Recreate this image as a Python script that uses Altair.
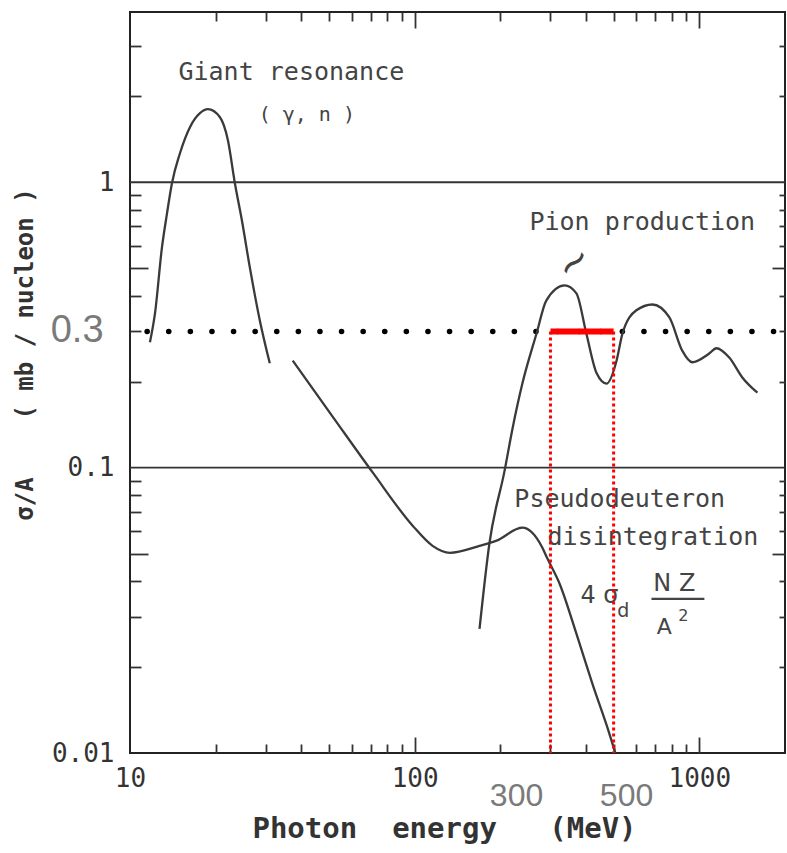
import altair as alt
import pandas as pd

# ---------------- data ----------------
# Giant resonance (gamma, n)
gr_E = [11.75, 12.24, 12.95, 13.49, 14.04, 14.98, 16.24, 17.61, 18.78, 20.70, 22.08, 23.36,
        24.72, 26.36, 28.58, 30.98]
gr_s = [0.275, 0.347, 0.591, 0.778, 0.992, 1.264, 1.56, 1.746, 1.803, 1.69, 1.404, 0.992,
        0.736, 0.503, 0.328, 0.232]
# quasi-deuteron / pseudodeuteron branch
qd_E = [37.3, 51.5, 71.3, 98.4, 115.6, 133, 169, 194, 239, 259, 281, 293, 323, 370, 421, 483, 507]
qd_s = [0.237, 0.151, 0.096, 0.0626, 0.0532, 0.0503, 0.0532, 0.0555, 0.0616, 0.0591, 0.0524,
        0.0479, 0.0392, 0.0262, 0.0175, 0.0117, 0.01]
# pion production
pi_E = [169, 183, 207, 221, 239, 268, 290, 336, 370, 401, 436, 472, 512, 537, 601, 684,
        785, 871, 944, 1083, 1148, 1274, 1416, 1600]
pi_s = [0.0272, 0.0541, 0.0976, 0.138, 0.197, 0.295, 0.385, 0.435, 0.408, 0.295, 0.214, 0.197,
        0.237, 0.295, 0.356, 0.373, 0.336, 0.257, 0.234, 0.251, 0.262, 0.243, 0.207, 0.183]

grid_s = [1, 0.1]
level_s = 0.3
band_E = [300, 500]

x_label_vals = [10, 100, 1000]
y_label_vals = [0.01, 0.1, 1]
x_minor = [20, 30, 40, 50, 60, 70, 80, 90, 200, 300, 400, 500, 600, 700, 800, 900]
x_major = [100, 1000]
y_minor = [0.02, 0.03, 0.04, 0.06, 0.07, 0.08, 0.09, 0.2, 0.3, 0.4, 0.6, 0.7, 0.8, 0.9, 2, 3]
y_mid = [0.05, 0.5]

ann_text = ["Giant resonance", "Pion production", "Pseudodeuteron", "disintegration"]
ann_E = [14.8, 253, 224, 293]
ann_s = [2.43, 0.724, 0.0778, 0.0573]

formula_text = ["4 σ", "d", "N Z", "A", "2"]
formula_E = [446, 541, 817, 754, 879]
formula_s = [0.0356, 0.0315, 0.0392, 0.0277, 0.0303]
formula_size = [24, 19, 24, 22, 16]
frac_E = [679, 1042]
frac_s = 0.0347

gray_text = ["0.3", "300", "500"]
gray_E = [6.52, 228, 555]
gray_s = [0.3, 0.00706, 0.00706]
gray_size = [38, 32, 32]

# ---------------- tables ----------------
curves = pd.concat([
    pd.DataFrame({"E": gr_E, "s": gr_s, "c": "giant"}),
    pd.DataFrame({"E": qd_E, "s": qd_s, "c": "qd"}),
    pd.DataFrame({"E": pi_E, "s": pi_s, "c": "pion"}),
])
grid_df = pd.DataFrame({"s": grid_s})
level_df = pd.DataFrame({"E": [10, 2000], "s": [level_s, level_s]})
band_df = pd.DataFrame({"E": band_E, "s": [level_s, level_s]})
vert_df = pd.DataFrame({"E": band_E, "s": [level_s, level_s], "s2": [0.01, 0.01]})
ann_df = pd.DataFrame({"E": ann_E, "s": ann_s, "t": ann_text})
gam_df = pd.DataFrame({"E": [41.8], "s": [1.72], "t": ["( γ, n )"]})
sq_df = pd.DataFrame({"E": [364], "s": [0.52], "t": ["~"]})
form_df = pd.DataFrame({"E": formula_E, "s": formula_s, "t": formula_text, "z": formula_size})
frac_df = pd.DataFrame({"E": [frac_E[0]], "E2": [frac_E[1]], "s": [frac_s]})
gray_df = pd.DataFrame({"E": gray_E, "s": gray_s, "t": gray_text, "z": gray_size})
anchor_df = pd.DataFrame({"E": [100], "s": [0.1]})

xs = alt.Scale(type="log", domain=[10, 2000], nice=False)
ys = alt.Scale(type="log", domain=[0.01, 3.95], nice=False)


def X(field="E", axis=None):
    return alt.X(f"{field}:Q", scale=xs, axis=axis)


def Y(field="s", axis=None):
    return alt.Y(f"{field}:Q", scale=ys, axis=axis)


INK = "#3a3a3a"
MONO = "DejaVu Sans Mono"
SANS = "DejaVu Sans"

grid = alt.Chart(grid_df).mark_rule(color="#333", strokeWidth=1.8).encode(y=Y())

level = alt.Chart(level_df).mark_line(
    color="black", strokeWidth=5.5, strokeDash=[0.1, 21.5], strokeCap="round", strokeDashOffset=4.5
).encode(x=X(), y=Y())

lines = alt.Chart(curves).mark_line(
    color=INK, strokeWidth=2.3, interpolate="monotone"
).encode(x=X(), y=Y(), detail="c:N")

ann = alt.Chart(ann_df).mark_text(
    align="left", baseline="middle", font=MONO, fontSize=25, color="#444"
).encode(x=X(), y=Y(), text="t:N")

gam = alt.Chart(gam_df).mark_text(
    align="center", baseline="middle", font=MONO, fontSize=20, color="#444"
).encode(x=X(), y=Y(), text="t:N")

sq = alt.Chart(sq_df).mark_text(
    align="center", baseline="middle", font=SANS, fontSize=40, color="#444", angle=320
).encode(x=X(), y=Y(), text="t:N")

form = alt.Chart(form_df).mark_text(
    align="center", baseline="middle", font=SANS, color="#444"
).encode(x=X(), y=Y(), text="t:N", size=alt.Size("z:Q", scale=None, legend=None))

frac = alt.Chart(frac_df).mark_rule(color="#444", strokeWidth=2.2).encode(
    x=X(), x2="E2:Q", y=Y()
)

gray = alt.Chart(gray_df).mark_text(
    align="center", baseline="middle", font="Liberation Sans", color="#7a7a7a"
).encode(x=X(), y=Y(), text="t:N", size=alt.Size("z:Q", scale=None, legend=None))

band = alt.Chart(band_df).mark_line(color="#ff0000", strokeWidth=6).encode(x=X(), y=Y())

verts = alt.Chart(vert_df).mark_rule(
    color="#ff0000", strokeWidth=3, strokeDash=[3, 3]
).encode(x=X(), y=Y(), y2="s2:Q")

# ---------------- axes (inward ticks via negative offset) ----------------
tick_common = dict(domain=False, labels=False, grid=False, title=None,
                   tickColor="#333", tickWidth=1.8)


def tick_axis(orient, values, size):
    return alt.Axis(orient=orient, values=values, tickSize=size, offset=-size, **tick_common)


def axis_layer(xaxis=None, yaxis=None):
    return alt.Chart(anchor_df).mark_point(opacity=0).encode(x=X(axis=xaxis), y=Y(axis=yaxis))


NB = "\u00a0"
x_lab_axis = alt.Axis(
    orient="bottom", values=x_label_vals, format="d", ticks=False, domain=False, grid=False,
    labelFont=MONO, labelFontSize=26, labelColor="#333", labelPadding=12, labelFlush=False,
    title=f"Photon{NB*2}energy{NB*3}(MeV)",
    titleFont=MONO, titleFontSize=29, titleFontWeight="bold", titleColor="#333",
    titleX=314, titleY=75, titleBaseline="middle", titleAlign="center",
)
y_lab_axis = alt.Axis(
    orient="left", values=y_label_vals, format=".2~f", ticks=False, domain=False, grid=False,
    labelFont=MONO, labelFontSize=26, labelColor="#333", labelPadding=16, labelFlush=False,
    title=f"σ/A{NB*4}({NB}mb{NB}/{NB}nucleon{NB})",
    titleFont=MONO, titleFontSize=24, titleFontWeight="bold", titleColor="#333",
    titleX=-105, titleY=342, titleAngle=270, titleBaseline="middle", titleAlign="center",
)

axes = [
    axis_layer(xaxis=x_lab_axis, yaxis=y_lab_axis),
    axis_layer(xaxis=tick_axis("bottom", x_minor, 9), yaxis=tick_axis("left", y_minor, 11)),
    axis_layer(xaxis=tick_axis("bottom", x_major, 16), yaxis=tick_axis("left", y_mid, 18)),
    axis_layer(xaxis=tick_axis("top", x_minor, 9), yaxis=tick_axis("right", y_minor, 6)),
    axis_layer(xaxis=tick_axis("top", x_major, 16), yaxis=tick_axis("right", y_mid, 13)),
]

chart = alt.layer(
    grid, level, lines, ann, gam, sq, form, frac, gray, band, verts, *axes
).resolve_axis(
    x="independent", y="independent"
).properties(
    width=655, height=741,
    padding={"left": 130, "top": 12, "right": 2, "bottom": 100},
    autosize=alt.AutoSizeParams(type="none"),
).configure_view(stroke="#222", strokeWidth=2)

chart.save("out.html", embed_options={"renderer": "svg", "actions": False})
